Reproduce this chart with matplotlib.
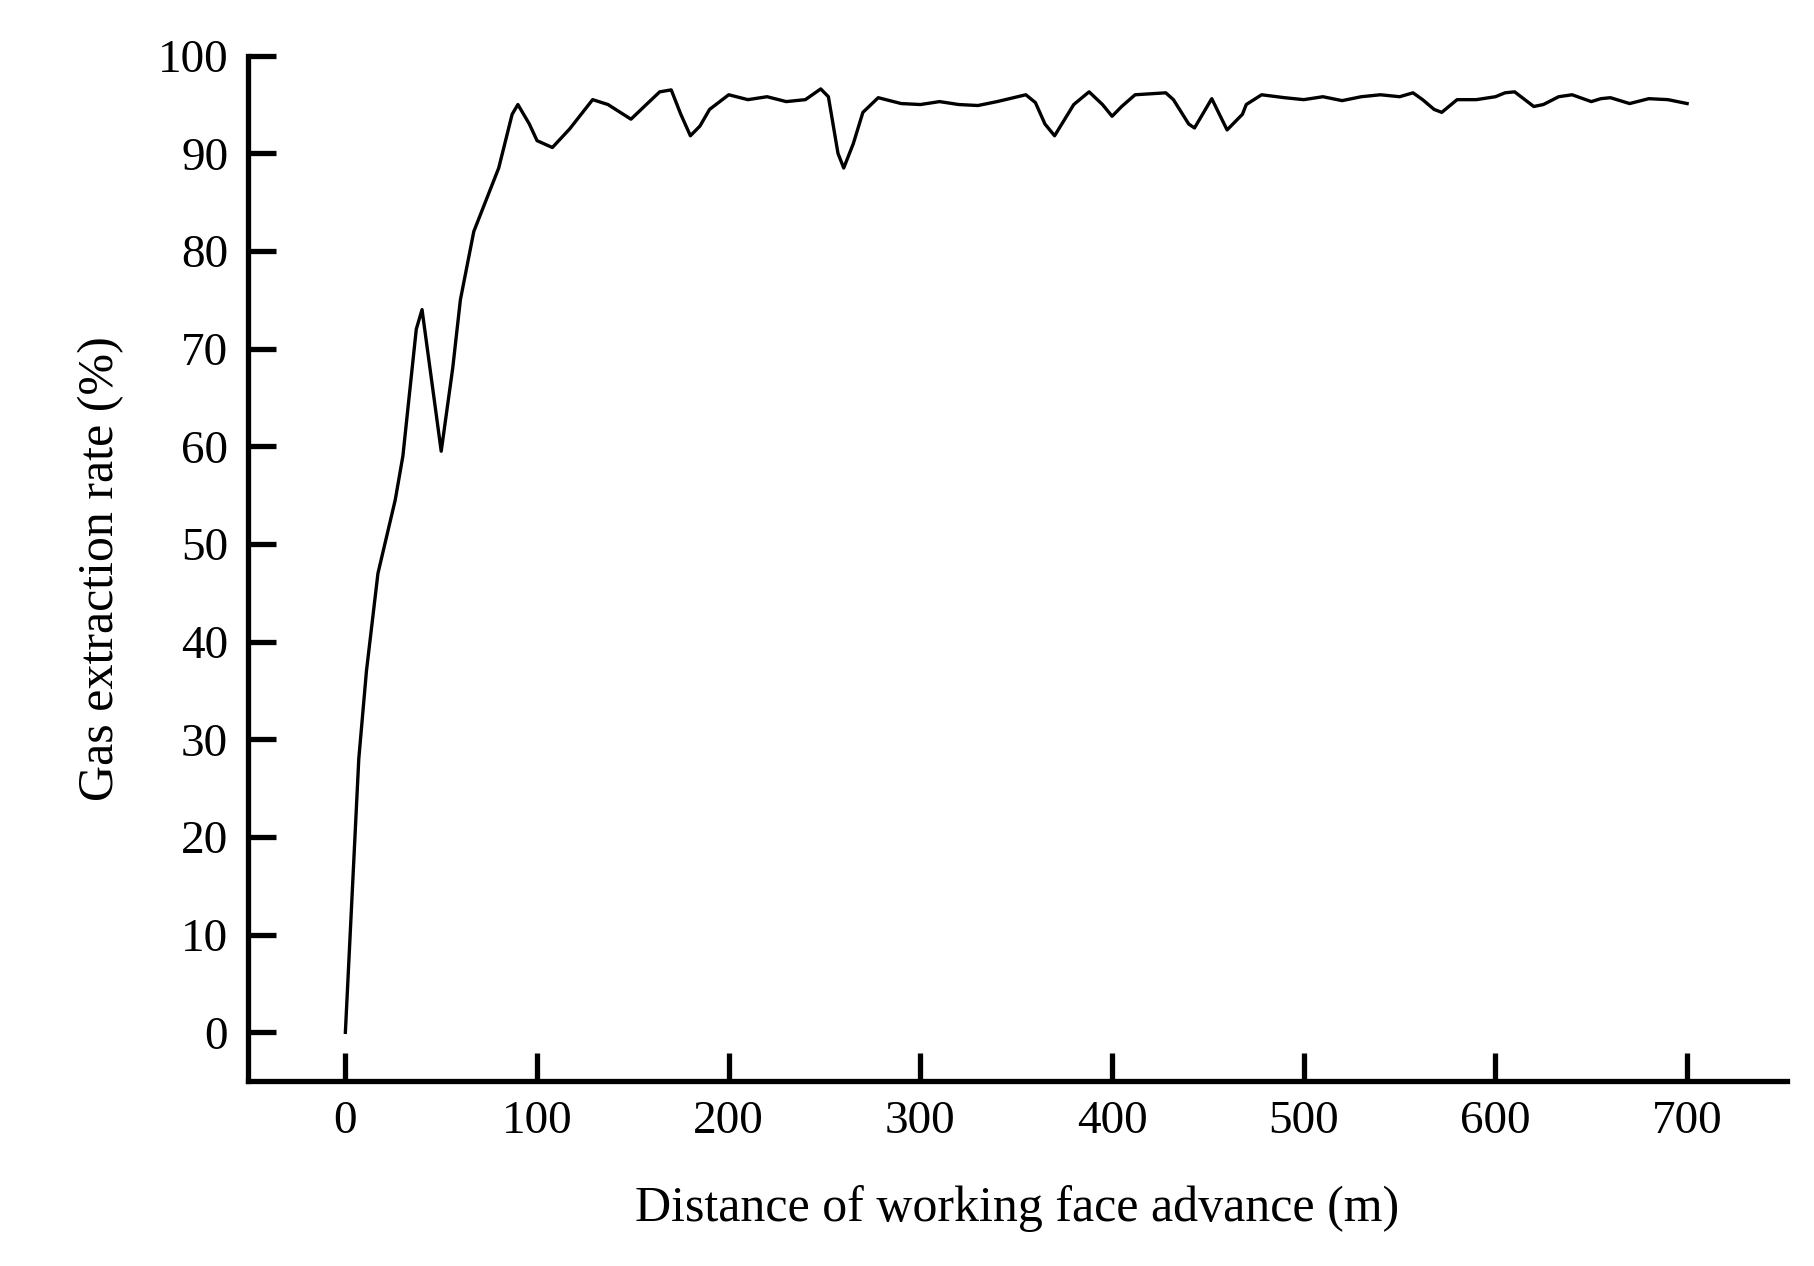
import matplotlib
matplotlib.use('Agg')
import matplotlib.pyplot as plt

plt.rcParams['font.family'] = ['Liberation Serif', 'DejaVu Serif']

dist = [0, 7, 11, 17, 26, 30, 37, 40, 50, 56, 60, 67, 74, 80, 87, 90, 96, 100, 108, 117,
        129, 137, 149, 157, 164, 170, 175, 180, 185, 190, 200, 210, 220, 230, 240, 248,
        252, 257, 260, 265, 270, 278, 290, 300, 310, 320, 330, 340, 355, 360, 365, 370,
        380, 388, 395, 400, 405, 412, 420, 428, 432, 440, 443, 452, 460, 468, 470, 478,
        490, 500, 510, 520, 530, 540, 550, 557, 562, 568, 572, 580, 590, 600, 605, 610,
        620, 625, 633, 640, 650, 655, 660, 670, 680, 690, 700]
rate = [0, 28, 37, 47, 54.5, 59, 72, 74, 59.5, 68, 75, 82, 85.5, 88.5, 94, 95, 93, 91.3, 90.6, 92.5,
        95.5, 95, 93.5, 95, 96.3, 96.5, 94, 91.8, 92.8, 94.5, 96, 95.5, 95.8, 95.3, 95.5, 96.6,
        95.8, 90, 88.5, 91, 94.2, 95.7, 95.1, 95, 95.3, 95, 94.9, 95.3, 96, 95.2, 93, 91.8,
        95, 96.3, 95, 93.8, 94.8, 96, 96.1, 96.2, 95.5, 93, 92.6, 95.6, 92.4, 94, 95, 96,
        95.7, 95.5, 95.8, 95.4, 95.8, 96, 95.8, 96.2, 95.5, 94.5, 94.2, 95.5, 95.5, 95.8, 96.2, 96.3,
        94.8, 95, 95.8, 96, 95.3, 95.6, 95.7, 95.1, 95.6, 95.5, 95.1]

fig = plt.figure(figsize=(18.14, 12.66), dpi=100)
ax = fig.add_axes([0.1365, 0.146, 0.8485, 0.81])
ax.plot(dist, rate, color='black', linewidth=2.4)

ax.set_xlim(-51, 752)
ax.set_ylim(-5, 100)
ax.set_xticks(range(0, 701, 100))
ax.set_yticks(range(0, 101, 10))
for s in ['top', 'right']:
    ax.spines[s].set_visible(False)
for s in ['left', 'bottom']:
    ax.spines[s].set_linewidth(3.8)
ax.tick_params(direction='in', length=20, width=3.8, labelsize=34, pad=14)
ax.set_xlabel('Distance of working face advance (m)', fontsize=36, labelpad=30)
ax.set_ylabel('Gas extraction rate (%)', fontsize=36, labelpad=24)

fig.savefig('out.png', dpi=100)
